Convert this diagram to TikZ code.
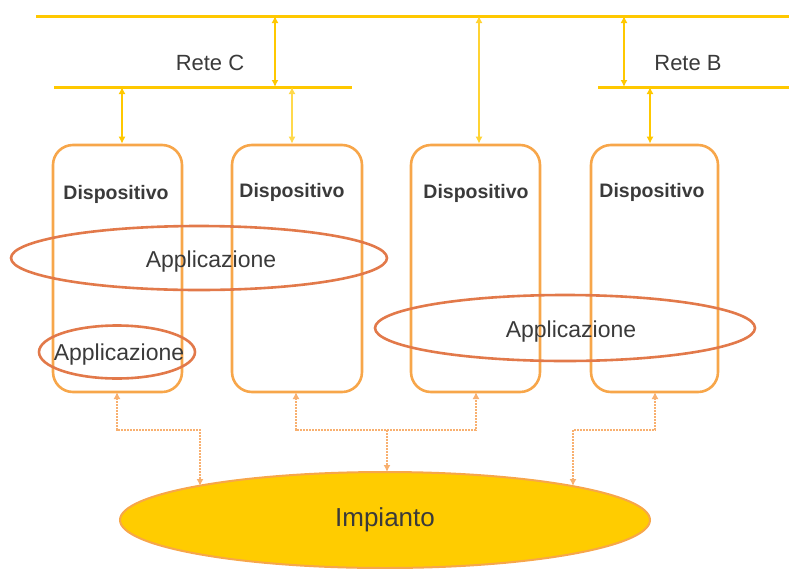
\documentclass[tikz,border=0pt]{standalone}
\usepackage{fontspec}
\setmainfont{Liberation Sans}
\usetikzlibrary{shapes.geometric,arrows.meta}
\definecolor{netgold}{HTML}{FFC800}
\definecolor{boxor}{HTML}{F7A64A}
\definecolor{appor}{HTML}{E2794A}
\definecolor{conn}{HTML}{F8B070}
\definecolor{impfill}{HTML}{FFCC00}
\definecolor{txt}{HTML}{3A3A3A}
\tikzset{
  net/.style={draw=netgold,line width=3pt},
  netconn/.style={draw=netgold,line width=2pt,{Latex[length=7pt,width=7pt]}-{Latex[length=7pt,width=7pt]}},
  devbox/.style={draw=boxor,line width=2.6pt,rounded corners=20pt,minimum width=#1,minimum height=247pt,inner sep=0pt},
  devlabel/.style={font=\bfseries\fontsize{19.5}{22}\selectfont,text=txt},
  app/.style={ellipse,draw=appor,line width=2.6pt,inner sep=0pt},
  apptext/.style={font=\fontsize{23}{26}\selectfont,text=txt},
  lowconn/.style={draw=conn,line width=2pt,densely dotted},
  lowtip/.style={lowconn,{Latex[length=7pt,width=7pt]}-{Latex[length=7pt,width=7pt]}},
  netlabel/.style={font=\fontsize{22}{24}\selectfont,text=txt}
}
\begin{document}
\begin{tikzpicture}[x=1pt,y=-1pt]
\useasboundingbox (0,0) rectangle (789,568);
% networks
\coordinate (topL) at (36,16);
\coordinate (topR) at (789,16);
\draw[net] (topL) -- (topR);
\coordinate (rcL) at (54,87);
\coordinate (rcR) at (352,87);
\draw[net] (rcL) -- (rcR);
\coordinate (rbL) at (598,87);
\coordinate (rbR) at (789,87);
\draw[net] (rbL) -- (rbR);
\node[netlabel] (retec) at (210,63) {Rete C};
\node[netlabel] (reteb) at (688,63) {Rete B};
% devices
\node[devbox=129pt] (d1) at (117.5,268.5) {};
\node[devbox=130pt] (d2) at (297,268.5) {};
\node[devbox=129pt] (d3) at (475.5,268.5) {};
\node[devbox=127pt] (d4) at (654.5,268.5) {};
\node[devlabel] (t1) at (116,194) {Dispositivo};
\node[devlabel] (t2) at (292,192) {Dispositivo};
\node[devlabel] (t3) at (476,193) {Dispositivo};
\node[devlabel] (t4) at (652,192) {Dispositivo};
% network connectors
\coordinate (a1) at (275,16);
\coordinate (a1b) at (275,87);
\draw[netconn] (a1) -- (a1b);
\coordinate (a2) at (122,87);
\draw[netconn] (a2) -- (a2 |- d1.north);
\coordinate (a3) at (292,87);
\draw[netconn,draw=netgold!70] (a3) -- (a3 |- d2.north);
\coordinate (a4) at (479,16);
\draw[netconn,draw=netgold!80] (a4) -- (a4 |- d3.north);
\coordinate (a5) at (624,16);
\coordinate (a5b) at (624,87);
\draw[netconn] (a5) -- (a5b);
\coordinate (a6) at (650,87);
\draw[netconn] (a6) -- (a6 |- d4.north);
% applications
\node[app,minimum width=376pt,minimum height=64pt] (ap1) at (199,258) {};
\node[apptext] (ap1t) at (211,262) {Applicazione};
\node[app,minimum width=156pt,minimum height=53pt] (ap2) at (117,352) {};
\node[apptext] (ap2t) at (119,355) {Applicazione};
\node[app,minimum width=380pt,minimum height=66pt] (ap3) at (565,328) {};
\node[apptext] (ap3t) at (571,332) {Applicazione};
% plant
\node[ellipse,draw=boxor,line width=2pt,fill=impfill,minimum width=530pt,minimum height=96pt,inner sep=0pt,font=\fontsize{26}{29}\selectfont,text=txt] (imp) at (385,520) {Impianto};
% lower connectors
\coordinate (b1) at (117,392);
\coordinate (c1) at (200,486);
\draw[lowtip] (b1) -- (117,430) -- (200,430) -- (c1);
\coordinate (b2) at (296,392);
\coordinate (b3) at (476,392);
\draw[lowtip] (b2) -- (296,430) -- (476,430) -- (b3);
\coordinate (m) at (387,430);
\coordinate (c2) at (387,472);
\draw[lowconn,-{Latex[length=7pt,width=7pt]}] (m) -- (c2);
\coordinate (b4) at (655,392);
\coordinate (c3) at (573,486);
\draw[lowtip] (b4) -- (655,430) -- (573,430) -- (c3);
\end{tikzpicture}
\end{document}
